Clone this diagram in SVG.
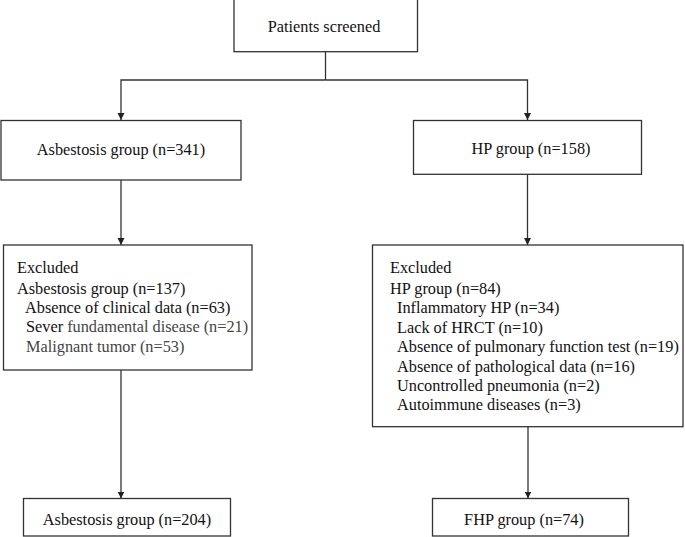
<svg xmlns="http://www.w3.org/2000/svg" width="685" height="537" viewBox="0 0 685 537">
<defs>
<style>
.box{fill:#fff;stroke:#333;stroke-width:1.3}
.ln{fill:none;stroke:#333;stroke-width:1.3}
text{font-family:"Liberation Serif","Times New Roman",serif;font-size:16.3px;fill:#111}
.c{text-anchor:middle}
.g{fill:#444}
</style>
<marker id="arr" markerUnits="userSpaceOnUse" markerWidth="8" markerHeight="8" refX="7" refY="3.5" orient="auto">
<path d="M0,0 L7,3.5 L0,7 z" fill="#222"/>
</marker>
</defs>
<rect width="685" height="537" fill="#fff"/>
<g id="connectors">
<path class="ln" d="M325.5,52 V80"/>
<path class="ln" d="M325.5,80 H121 V120" marker-end="url(#arr)"/>
<path class="ln" d="M325.5,80 H527.5 V120" marker-end="url(#arr)"/>
<path class="ln" d="M121,180 V245" marker-end="url(#arr)"/>
<path class="ln" d="M527.5,174 V245" marker-end="url(#arr)"/>
<path class="ln" d="M121,370 V498.5" marker-end="url(#arr)"/>
<path class="ln" d="M528,427 V498.5" marker-end="url(#arr)"/>
</g>
<g id="screened">
<rect class="box" x="234" y="-1" width="183.5" height="52.7"/>
<text class="c" x="324" y="32.3">Patients screened</text>
</g>
<g id="asbestosis">
<rect class="box" x="1" y="120.5" width="240" height="59.5"/>
<text class="c" x="121" y="155">Asbestosis group (n=341)</text>
</g>
<g id="hp">
<rect class="box" x="413.5" y="120.5" width="228" height="53.8"/>
<text class="c" x="531" y="154">HP group (n=158)</text>
</g>
<g id="excluded-asbestosis">
<rect class="box" x="3.5" y="245" width="248.5" height="125"/>
<text x="17" y="273">Excluded</text>
<text x="17" y="293.5">Asbestosis group (n=137)</text>
<text x="25" y="312.5">Absence of clinical data (n=63)</text>
<text x="26" y="331.7">Sever<tspan class="g"> fundamental disease (n=21)</tspan></text>
<text class="g" x="26" y="351.5">Malignant tumor (n=53)</text>
</g>
<g id="excluded-hp">
<rect class="box" x="372.5" y="245" width="310.5" height="181.7"/>
<text x="390" y="273.3">Excluded</text>
<text x="390" y="294">HP group (n=84)</text>
<text x="397" y="313.3">Inflammatory HP (n=34)</text>
<text x="397" y="332.7">Lack of HRCT (n=10)</text>
<text x="397" y="352.3">Absence of pulmonary function test (n=19)</text>
<text x="397" y="371.7">Absence of pathological data (n=16)</text>
<text x="397" y="391">Uncontrolled pneumonia (n=2)</text>
<text x="397" y="410.3">Autoimmune diseases (n=3)</text>
</g>
<g id="asbestosis-final">
<rect class="box" x="23.5" y="498.5" width="207" height="37.5"/>
<text class="c" x="127" y="525">Asbestosis group (n=204)</text>
</g>
<g id="fhp">
<rect class="box" x="432.5" y="498.5" width="196" height="37.5"/>
<text class="c" x="524" y="525">FHP group (n=74)</text>
</g>
</svg>
